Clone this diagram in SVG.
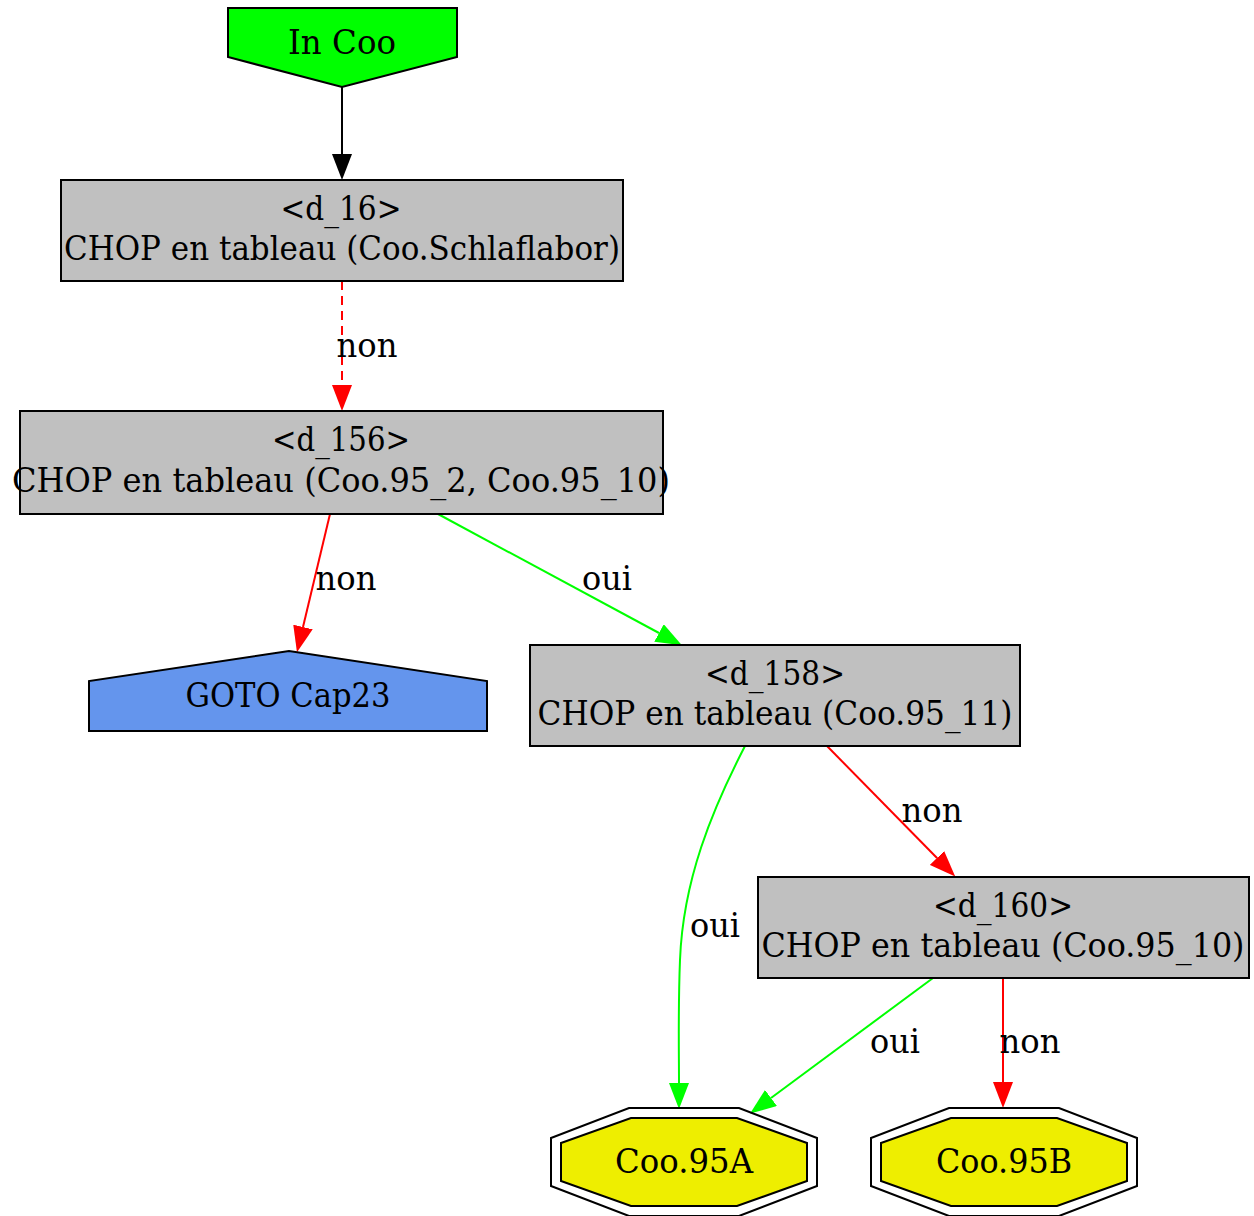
<svg xmlns="http://www.w3.org/2000/svg" width="1254" height="1216" viewBox="0 0 1254 1216">
<style>
text{font-family:"DejaVu Serif","Liberation Serif",serif;font-size:33px;fill:#000;text-anchor:middle}
.box{fill:#c0c0c0;stroke:#000;stroke-width:2}
.e{fill:none;stroke-width:2}
.red{stroke:#ff0000}
.grn{stroke:#00ff00}
.blk{stroke:#000}
.dash{stroke-dasharray:9,6}
.oct{fill:none;stroke:#000;stroke-width:2}
</style>
<defs>
<marker id="ab" markerUnits="userSpaceOnUse" markerWidth="26" markerHeight="20" refX="0" refY="10" orient="auto" viewBox="0 0 26 20"><path d="M0,0 L26,10 L0,20 z" fill="#000"/></marker>
<marker id="ar" markerUnits="userSpaceOnUse" markerWidth="26" markerHeight="20" refX="0" refY="10" orient="auto" viewBox="0 0 26 20"><path d="M0,0 L26,10 L0,20 z" fill="#ff0000"/></marker>
<marker id="ag" markerUnits="userSpaceOnUse" markerWidth="26" markerHeight="20" refX="0" refY="10" orient="auto" viewBox="0 0 26 20"><path d="M0,0 L26,10 L0,20 z" fill="#00ff00"/></marker>
</defs>
<rect width="1254" height="1216" fill="#fff"/>
<g id="connectors">
<path class="e blk" d="M342,87 L342,154" marker-end="url(#ab)"/>
<path class="e red dash" d="M342,281 L342,385" marker-end="url(#ar)"/>
<text x="367" y="357" textLength="61" lengthAdjust="spacingAndGlyphs">non</text>
<path class="e red" d="M330,514 L303,627" marker-end="url(#ar)"/>
<text x="346" y="590" textLength="61" lengthAdjust="spacingAndGlyphs">non</text>
<path class="e grn" d="M438,514 L659,633" marker-end="url(#ag)"/>
<text x="607" y="590" textLength="50" lengthAdjust="spacingAndGlyphs">oui</text>
<path class="e grn" d="M745,746 C712,810 683,880 680,960 C678,1010 679,1050 679,1083" marker-end="url(#ag)"/>
<text x="715" y="937" textLength="50" lengthAdjust="spacingAndGlyphs">oui</text>
<path class="e red" d="M827,746 L937,858" marker-end="url(#ar)"/>
<text x="932" y="822" textLength="61" lengthAdjust="spacingAndGlyphs">non</text>
<path class="e grn" d="M933,978 L771,1098" marker-end="url(#ag)"/>
<text x="895" y="1053" textLength="50" lengthAdjust="spacingAndGlyphs">oui</text>
<path class="e red" d="M1003,978 L1003,1082" marker-end="url(#ar)"/>
<text x="1030" y="1053" textLength="61" lengthAdjust="spacingAndGlyphs">non</text>
</g>
<g id="in_coo">
<polygon points="228,8 457,8 457,57 342,87 228,57" fill="#00ff00" stroke="#000" stroke-width="2"/>
<text x="342" y="54" textLength="108" lengthAdjust="spacingAndGlyphs">In Coo</text>
</g>
<g id="d_16">
<rect class="box" x="61" y="180" width="562" height="101"/>
<text x="341" y="220" textLength="121" lengthAdjust="spacingAndGlyphs">&lt;d_16&gt;</text>
<text x="342" y="260" textLength="556" lengthAdjust="spacingAndGlyphs">CHOP en tableau (Coo.Schlaflabor)</text>
</g>
<g id="d_156">
<rect class="box" x="20" y="411" width="643" height="103"/>
<text x="341" y="451" textLength="138" lengthAdjust="spacingAndGlyphs">&lt;d_156&gt;</text>
<text x="341" y="492" textLength="658" lengthAdjust="spacingAndGlyphs">CHOP en tableau (Coo.95_2, Coo.95_10)</text>
</g>
<g id="goto_cap23">
<polygon points="89,731 89,681 289,651 487,681 487,731" fill="#6495ed" stroke="#000" stroke-width="2"/>
<text x="288" y="707" textLength="205" lengthAdjust="spacingAndGlyphs">GOTO Cap23</text>
</g>
<g id="d_158">
<rect class="box" x="530" y="645" width="490" height="101"/>
<text x="775" y="685" textLength="140" lengthAdjust="spacingAndGlyphs">&lt;d_158&gt;</text>
<text x="775" y="725" textLength="475" lengthAdjust="spacingAndGlyphs">CHOP en tableau (Coo.95_11)</text>
</g>
<g id="d_160">
<rect class="box" x="758" y="877" width="491" height="101"/>
<text x="1003" y="917" textLength="140" lengthAdjust="spacingAndGlyphs">&lt;d_160&gt;</text>
<text x="1003" y="957" textLength="483" lengthAdjust="spacingAndGlyphs">CHOP en tableau (Coo.95_10)</text>
</g>
<g id="coo95a">
<polygon points="631,1118 737,1118 807,1143 807,1181 737,1206 631,1206 561,1181 561,1143" fill="#eeee00" stroke="#000" stroke-width="2"/>
<polygon class="oct" points="629,1108 739,1108 817,1138 817,1186 739,1216 629,1216 551,1186 551,1138"/>
<text x="684" y="1173" textLength="138" lengthAdjust="spacingAndGlyphs">Coo.95A</text>
</g>
<g id="coo95b">
<polygon points="951,1118 1057,1118 1127,1143 1127,1181 1057,1206 951,1206 881,1181 881,1143" fill="#eeee00" stroke="#000" stroke-width="2"/>
<polygon class="oct" points="949,1108 1059,1108 1137,1138 1137,1186 1059,1216 949,1216 871,1186 871,1138"/>
<text x="1004" y="1173" textLength="136" lengthAdjust="spacingAndGlyphs">Coo.95B</text>
</g>
</svg>
